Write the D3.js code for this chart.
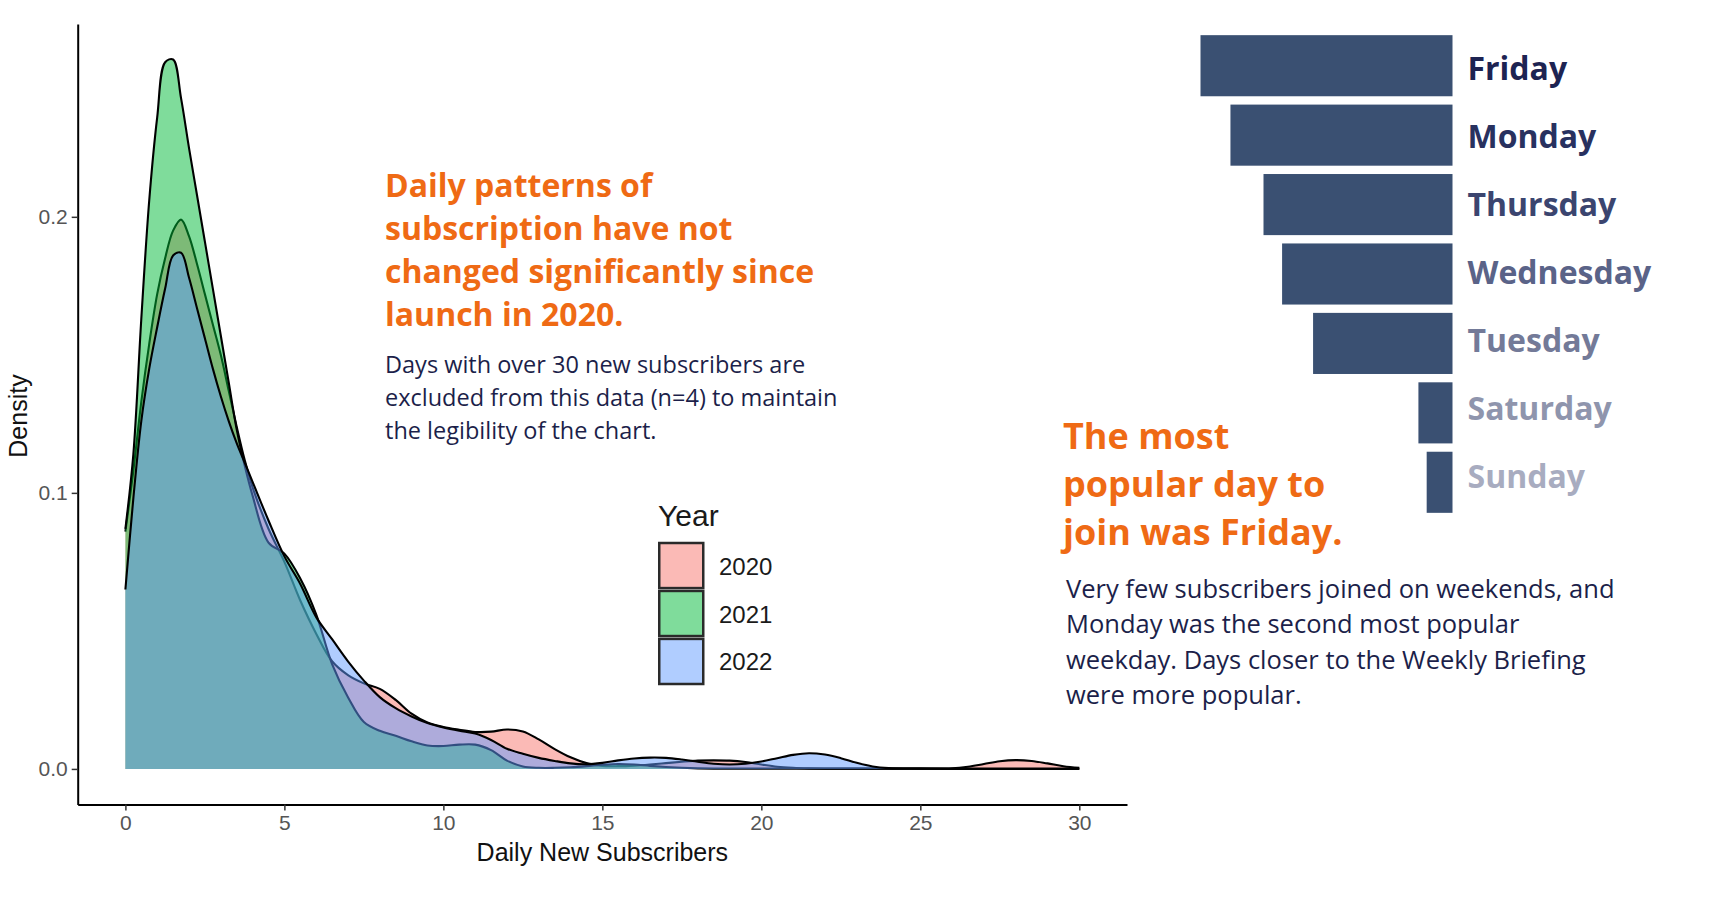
<!DOCTYPE html>
<html>
<head>
<meta charset="utf-8">
<script src="https://cdn.jsdelivr.net/npm/d3@7"></script>
<style>
  html, body { margin: 0; padding: 0; background: #ffffff; }
  svg { display: block; }
</style>
</head>
<body>
<svg id="chart" width="1716" height="908"></svg>
<script>
// ---------------- DATA ----------------
const xGrid = [0,0.25,0.5,0.75,1,1.25,1.5,1.75,2,2.25,2.5,2.75,3,3.25,3.5,3.75,4,
  4.5,5,5.5,6,6.5,7,7.5,8,8.5,9,9.5,10,10.5,11,11.5,12,12.5,13,13.5,14,
  14.5,15,15.5,16,16.5,17,17.5,18,18.5,19,19.5,20,20.5,21,21.5,22,22.5,23,23.5,24,
  25,26,26.5,27,27.5,28,28.5,29,29.5,30];

const density2020 = [0.086,0.108,0.133,0.154,0.172,0.185,0.195,0.199,0.193,0.183,0.172,0.161,0.150,0.137,0.124,0.112,0.102,
  0.087,0.075,0.061,0.049,0.039,0.034,0.031,0.029,0.025,0.020,0.0168,0.0152,0.0142,0.0134,0.0135,0.0143,0.0136,0.0107,0.0072,0.0042,
  0.0021,0.0011,0.0010,0.0012,0.0016,0.0021,0.0026,0.0030,0.0031,0.0030,0.0025,0.0016,0.0008,0.0004,0.0002,0.0001,0.0001,0.0001,0.0001,0.0001,
  0.0001,0.0002,0.0008,0.0018,0.0028,0.0032,0.0029,0.0020,0.0010,0.0004];

const density2021 = [0.087,0.114,0.163,0.206,0.236,0.256,0.257,0.243,0.225,0.208,0.191,0.174,0.157,0.140,0.123,0.110,0.099,
  0.082,0.078,0.069,0.056,0.038,0.026,0.017,0.0138,0.0120,0.0100,0.0085,0.0083,0.0088,0.0088,0.0068,0.0030,0.0009,0.0004,0.0004,0.0006,
  0.0010,0.0015,0.0018,0.0016,0.0011,0.0007,0.0004,0.0002,0.0001,0.0001,0.0001,0.0001,0.0001,0.0001,0.0001,0.0001,0.0001,0.0001,0.0001,0.0001,
  0.0001,0.0001,0.0001,0.0001,0.0001,0.0001,0.0001,0.0001,0.0001,0.0001];

const density2022 = [0.065,0.098,0.126,0.145,0.160,0.174,0.186,0.187,0.178,0.167,0.156,0.145,0.135,0.126,0.118,0.111,0.104,
  0.090,0.077,0.067,0.055,0.047,0.039,0.032,0.026,0.022,0.019,0.0166,0.0150,0.0138,0.0128,0.0105,0.0073,0.0055,0.0040,0.0029,0.0020,
  0.0017,0.0022,0.0031,0.0038,0.0041,0.0040,0.0034,0.0026,0.0019,0.0016,0.0019,0.0027,0.0039,0.0051,0.0057,0.0052,0.0039,0.0022,0.0009,0.0003,
  0.0001,0,0,0,0,0,0,0,0,0];

const years = ["2020", "2021", "2022"];
const yearColors = ["#F8766D", "#00BA38", "#619CFF"];
const xTicks = [0, 5, 10, 15, 20, 25, 30];
const yTicks = [0, 0.1, 0.2];

const days = ["Friday", "Monday", "Thursday", "Wednesday", "Tuesday", "Saturday", "Sunday"];
const dayShares = [24.4, 21.5, 18.3, 16.5, 13.5, 3.3, 2.5];
const dayColors = ["#1d2352", "#28315f", "#3b456f", "#5a6388", "#737a98", "#8f95ad", "#a8acc0"];

const heading1Lines = ["Daily patterns of", "subscription have not", "changed significantly since", "launch in 2020."];
const note1Lines = ["Days with over 30 new subscribers are", "excluded from this data (n=4) to maintain", "the legibility of the chart."];
const heading2Lines = ["The most", "popular day to", "join was Friday."];
const note2Lines = ["Very few subscribers joined on weekends, and", "Monday was the second most popular",
  "weekday. Days closer to the Weekly Briefing", "were more popular."];

// ---------------- CHART ----------------
const svg = d3.select("#chart");
svg.append("rect").attr("width", 1716).attr("height", 908).attr("fill", "#ffffff");

const series = [density2020, density2021, density2022];
const maxD = d3.max(series.flat());
const padY = maxD * 0.05;
const padX = 30 * 0.05;

const x = d3.scaleLinear().domain([0 - padX, 30 + padX]).range([77.7, 1127]);
const y = d3.scaleLinear().domain([-padY, maxD + padY]).range([804.4, 24]);

const chartFont = "'Liberation Sans', Arial, Helvetica, sans-serif";
const textFont = "'Open Sans', 'Noto Sans', sans-serif";

const curve = d3.curveCatmullRom.alpha(0.5);
const area = d3.area()
  .x((d, i) => x(xGrid[i]))
  .y0(y(0))
  .y1(d => y(d))
  .curve(curve);
const line = d3.line()
  .x((d, i) => x(xGrid[i]))
  .y(d => y(d))
  .curve(curve);

const plot = svg.append("g");
series.forEach((s, k) => {
  plot.append("path").datum(s)
    .attr("d", area)
    .attr("fill", yearColors[k])
    .attr("fill-opacity", 0.5)
    .attr("stroke", "none");
  plot.append("path").datum(s)
    .attr("d", line)
    .attr("fill", "none")
    .attr("stroke", "#000")
    .attr("stroke-width", 2.1)
    .attr("stroke-linejoin", "round");
});

// axes
const xAxis = svg.append("g")
  .attr("transform", `translate(0,${y.range()[0]})`)
  .call(d3.axisBottom(x).tickValues(xTicks).tickSize(6).tickSizeOuter(0).tickPadding(5).tickFormat(d3.format("d")));
const yAxis = svg.append("g")
  .attr("transform", `translate(${x.range()[0]},0)`)
  .call(d3.axisLeft(y).tickValues(yTicks).tickSize(6).tickSizeOuter(0).tickPadding(4).tickFormat(d3.format(".1f")));

[xAxis, yAxis].forEach(g => {
  g.select(".domain").attr("stroke", "#000").attr("stroke-width", 2);
  g.selectAll(".tick line").attr("stroke", "#333").attr("stroke-width", 1.5);
  g.selectAll(".tick text").attr("fill", "#555").attr("font-size", 21).attr("font-family", chartFont);
});

svg.append("text")
  .attr("x", (x.range()[0] + x.range()[1]) / 2)
  .attr("y", 861)
  .attr("text-anchor", "middle")
  .attr("font-family", chartFont)
  .attr("font-size", 25)
  .attr("fill", "#111")
  .text("Daily New Subscribers");

svg.append("text")
  .attr("transform", "translate(27,416) rotate(-90)")
  .attr("text-anchor", "middle")
  .attr("font-family", chartFont)
  .attr("font-size", 25)
  .attr("fill", "#111")
  .text("Density");

// legend
const legend = svg.append("g").attr("transform", "translate(658,0)");
legend.append("text")
  .attr("x", 0).attr("y", 526)
  .attr("font-family", chartFont)
  .attr("font-size", 30)
  .attr("fill", "#1a1a1a")
  .text("Year");
const keyScale = d3.scaleBand().domain(years).range([543, 684]).paddingInner(0.06);
years.forEach((yr, k) => {
  legend.append("rect")
    .attr("x", 1.25).attr("y", keyScale(yr))
    .attr("width", 44).attr("height", keyScale.bandwidth())
    .attr("fill", yearColors[k]).attr("fill-opacity", 0.5)
    .attr("stroke", "#2a2a2a").attr("stroke-width", 2.5);
  legend.append("text")
    .attr("x", 61)
    .attr("y", keyScale(yr) + keyScale.bandwidth() / 2 + 9)
    .attr("font-family", chartFont)
    .attr("font-size", 24)
    .attr("fill", "#1a1a1a")
    .text(yr);
});

// ---------------- DAY BARS ----------------
const barRight = 1452.5;
const bx = d3.scaleLinear().domain([0, d3.max(dayShares)]).range([0, 252]);
const by = d3.scaleBand().domain(days).range([31, 517]).paddingInner(0.12).paddingOuter(0.06);
const labelY = d3.scalePoint().domain(days).range([80, 488]);

const bars = svg.append("g");
bars.selectAll("rect").data(days).join("rect")
  .attr("x", (d, i) => barRight - bx(dayShares[i]))
  .attr("y", d => by(d))
  .attr("width", (d, i) => bx(dayShares[i]))
  .attr("height", by.bandwidth())
  .attr("fill", "#3a5072");
bars.selectAll("text").data(days).join("text")
  .attr("x", barRight + 15)
  .attr("y", d => labelY(d))
  .attr("font-family", textFont)
  .attr("font-weight", 700)
  .attr("font-size", 32)
  .attr("fill", (d, i) => dayColors[i])
  .text(d => d);

// ---------------- ANNOTATIONS ----------------
function block(lines, x0, y0, step, size, weight, color) {
  const t = svg.append("text")
    .attr("font-family", textFont)
    .attr("font-size", size)
    .attr("font-weight", weight)
    .attr("fill", color);
  lines.forEach((l, i) => {
    t.append("tspan").attr("x", x0).attr("y", y0 + i * step).text(l);
  });
}
block(heading1Lines, 385, 197, 43, 32, 700, "#ef6a14");
block(note1Lines, 385, 373, 33, 23.5, 400, "#1c1f4a");
block(heading2Lines, 1063, 449, 48, 36, 700, "#ef6a14");
block(note2Lines, 1066, 598, 35.3, 25.5, 400, "#1c1f4a");
</script>
</body>
</html>
